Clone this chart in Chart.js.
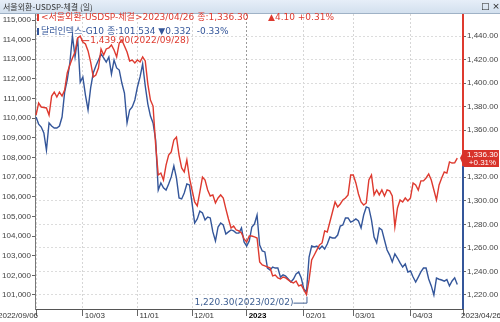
<!DOCTYPE html>
<html><head><meta charset="utf-8">
<script src="https://cdn.jsdelivr.net/npm/chart.js@4/dist/chart.umd.min.js"></script>
<style>html,body{margin:0;padding:0;background:#fff;overflow:hidden}canvas{display:block}</style>
</head><body>
<canvas id="c" width="500" height="322"></canvas>
<script>
// 서울외환 USD/KRW 체결 (daily close)
const usdkrw = [1372.9,1383.1,1379.7,1379.3,1378.9,1372.9,1389.0,1392.4,1388.2,1392.4,
1389.0,1394.1,1408.6,1415.4,1421.3,1426.4,1438.3,1439.9,1434.9,1433.2,
1427.3,1417.9,1405.2,1406.9,1412.8,1429.0,1423.9,1429.0,1429.8,1432.4,
1428.1,1422.2,1434.1,1436.6,1431.5,1426.4,1418.8,1419.6,1417.1,1419.6,
1417.9,1422.2,1418.8,1399.2,1385.6,1380.5,1347.4,1321.9,1323.6,1317.7,
1330.4,1338.9,1341.5,1351.7,1354.2,1338.9,1327.9,1324.5,1334.7,1319.4,
1309.2,1299.0,1295.6,1307.5,1320.2,1317.7,1309.2,1304.1,1305.0,1298.2,
1302.4,1305.0,1302.4,1293.1,1284.6,1276.9,1278.6,1275.2,1274.4,1272.7,
1267.6,1265.0,1270.1,1270.1,1269.3,1268.4,1248.1,1245.5,1244.7,1243.8,
1243.0,1236.2,1237.0,1234.5,1233.6,1235.3,1234.5,1232.8,1231.1,1230.2,
1231.9,1227.7,1228.5,1224.3,1220.3,1232.8,1249.8,1254.0,1258.3,1262.5,
1264.2,1274.4,1273.5,1282.0,1290.5,1299.0,1294.8,1297.3,1300.7,1302.4,
1305.0,1321.9,1321.9,1315.2,1305.8,1299.0,1296.5,1298.2,1317.7,1321.9,
1305.0,1309.2,1305.0,1309.2,1304.1,1309.2,1308.4,1304.1,1277.8,1293.9,
1300.7,1299.0,1302.4,1299.9,1302.4,1315.2,1313.5,1309.2,1316.9,1316.9,
1319.4,1322.8,1317.7,1309.2,1300.7,1313.5,1319.4,1324.5,1323.6,1333.0,
1332.1,1332.2,1336.3];

// 달러인덱스-G10
const dxyG10 = [110.06,109.70,109.55,109.25,108.38,109.76,109.60,109.50,109.50,109.60,
110.06,111.33,111.95,112.81,114.19,113.12,114.08,111.84,112.10,111.18,
110.42,111.54,112.30,112.66,112.96,113.27,113.07,112.86,113.12,112.25,
112.96,112.56,112.45,111.79,111.28,109.76,110.42,110.57,110.93,111.59,
112.10,112.76,111.64,110.72,110.11,109.76,108.89,106.34,106.70,106.45,
106.34,106.65,107.01,107.57,106.96,105.94,105.89,106.19,106.65,106.60,
105.68,104.66,104.87,105.27,105.17,104.82,104.97,104.92,104.21,103.75,
104.46,104.66,104.56,104.10,104.21,104.31,104.26,104.15,104.15,104.41,
103.70,103.49,103.75,104.46,104.61,105.07,103.54,103.24,103.19,102.37,
102.27,102.42,102.37,102.37,101.91,102.02,101.96,101.81,101.66,101.81,
102.07,102.17,101.86,101.30,101.15,102.93,103.49,103.44,103.49,103.34,
103.49,103.34,103.59,103.95,103.90,103.90,104.05,104.51,104.56,104.92,
104.92,104.71,104.77,104.87,104.77,104.41,105.07,105.48,105.43,104.82,
103.95,103.65,104.41,104.31,103.80,103.29,103.03,102.68,103.09,102.88,
102.63,102.42,102.58,102.17,102.22,101.91,101.66,101.91,102.17,102.37,
102.37,101.81,101.46,101.00,101.86,101.80,101.76,101.70,101.78,101.46,
101.71,101.87,101.534];

// x tick positions (trading-day index) and labels
const xTickIdx = [0,18,39,60,81,103,122,144];
const xTickLabels = ['2022/09/06','10/03','11/01','12/01','2023','02/01','03/01','04/03'];
const xEndLabel = '2023/04/26';
const leftTicks = [101,102,103,104,105,106,107,108,109,110,111,112,113,114,115];
const rightTicks = [1220,1240,1260,1280,1300,1320,1340,1360,1380,1400,1420,1440];

const peakDate = '2022/09/28';
const lowDate = '2023/02/02';
const titleText = '서울외환-USDSP-체결 (일)';
const legend1 = '<서울외환-USDSP-체결>2023/04/26 종:1,336.30';
const legend1b = '▲4.10 +0.31%';
const legend2 = '달러인덱스-G10 종:101.534 ▼0.332  -0.33%';
const tagLine2 = '+0.31%';

const RED = '#de3a2f', BLUE = '#34569a';
const AX_FONT = "8px 'Liberation Sans', Arial, sans-serif";
const TXT_FONT = "9px 'DejaVu Sans', 'Noto Sans CJK KR', sans-serif";

const fmt2 = v => v.toLocaleString('en-US',{minimumFractionDigits:2, maximumFractionDigits:2});

const deco = {
  id: 'deco',
  beforeDraw(chart) {
    const c = chart.ctx;
    c.save();
    c.fillStyle = '#fff';
    c.fillRect(0, 0, chart.width, chart.height);
    const g = c.createLinearGradient(0, 0, 0, 13);
    g.addColorStop(0, '#e6eef8');
    g.addColorStop(1, '#d3e0ee');
    c.fillStyle = g;
    c.fillRect(0, 0, chart.width, 13);
    c.fillStyle = '#9fb2c6';
    c.fillRect(0, 13, chart.width, 1);
    c.fillStyle = '#333';
    c.font = "8px 'Noto Sans CJK KR', sans-serif";
    c.textBaseline = 'middle';
    c.textAlign = 'left';
    c.fillText(titleText, 3, 7);
    c.font = "9px 'DejaVu Sans', sans-serif";
    c.fillStyle = '#222';
    c.fillText('□ ×', 481, 7);
    c.restore();
  },
  afterDraw(chart) {
    const c = chart.ctx;
    const area = chart.chartArea;
    const xs = chart.scales.x, yR = chart.scales.yR;
    c.save();
    // right axis coloured line
    const last = usdkrw[usdkrw.length - 1];
    const tagY = yR.getPixelForValue(last);
    c.fillStyle = RED;
    c.fillRect(area.right - 1, area.top, 2, tagY + 8 - area.top);
    c.fillStyle = BLUE;
    c.fillRect(area.right - 1, tagY + 8, 2, area.bottom - tagY - 8);
    // price tag
    c.fillStyle = '#d8332a';
    c.beginPath();
    c.moveTo(area.right - 3, tagY);
    c.lineTo(area.right + 1, tagY - 8);
    c.lineTo(chart.width - 1, tagY - 8);
    c.lineTo(chart.width - 1, tagY + 9);
    c.lineTo(area.right + 1, tagY + 9);
    c.closePath();
    c.fill();
    c.fillStyle = '#fff';
    c.font = AX_FONT;
    c.textAlign = 'center';
    c.textBaseline = 'middle';
    const tx = (area.right + chart.width) / 2 + 1;
    c.fillText(fmt2(last), tx, tagY - 3.5);
    c.fillText(tagLine2, tx, tagY + 4.5);

    // x labels
    c.textBaseline = 'middle';
    const ly = area.bottom + 7;
    xTickIdx.forEach((v, i) => {
      const px = xs.getPixelForValue(v);
      const lab = xTickLabels[i];
      c.font = lab === '2023' ? "bold 8px 'Liberation Sans', Arial, sans-serif" : AX_FONT;
      c.fillStyle = lab === '2023' ? '#000' : '#333';
      if (i === 0) { c.textAlign = 'right'; c.fillText(lab, px + 2, ly); }
      else { c.textAlign = 'left'; c.fillText(lab, px + 2, ly); }
    });
    c.font = AX_FONT;
    c.fillStyle = '#333';
    c.textAlign = 'left';
    c.fillText(xEndLabel, xs.getPixelForValue(xs.max) - 2, ly);

    // legend lines
    c.font = TXT_FONT;
    c.textAlign = 'left';
    c.fillStyle = RED;
    c.fillRect(37, 14, 2, 7);
    c.fillText(legend1, 41, 18);
    c.fillText(legend1b, 268, 18);
    c.fillStyle = BLUE;
    c.fillRect(37, 28, 2, 7);
    c.fillText(legend2, 41, 32);

    // peak annotation
    let pi = 0, li = 0;
    usdkrw.forEach((v, i) => { if (v > usdkrw[pi]) pi = i; if (v < usdkrw[li]) li = i; });
    const ppx = xs.getPixelForValue(pi), ppy = yR.getPixelForValue(usdkrw[pi]);
    c.strokeStyle = RED; c.lineWidth = 1;
    c.beginPath(); c.moveTo(ppx + 1, ppy + 4.5); c.lineTo(ppx + 9, ppy + 4.5); c.stroke();
    c.fillStyle = RED;
    c.fillText(fmt2(usdkrw[pi]) + '(' + peakDate + ')', ppx + 10, ppy + 4.5);
    // low annotation
    const lpx = xs.getPixelForValue(li), lpy = yR.getPixelForValue(usdkrw[li]);
    c.strokeStyle = '#3f5f92';
    c.beginPath();
    c.moveTo(lpx - 13, lpy + 8.5); c.lineTo(lpx + 0.5, lpy + 8.5); c.lineTo(lpx + 0.5, lpy + 2);
    c.stroke();
    c.fillStyle = '#3f5f92';
    c.textAlign = 'right';
    c.fillText(fmt2(usdkrw[li]) + '(' + lowDate + ')', lpx - 13, lpy + 8);
    c.restore();
  }
};

new Chart(document.getElementById('c'), {
  type: 'line',
  data: {
    datasets: [
      { label: 'USDKRW', data: usdkrw.map((v, i) => ({ x: i, y: v })), yAxisID: 'yR',
        borderColor: RED, borderWidth: 1.4, pointRadius: 0, tension: 0, fill: false },
      { label: 'DXY', data: dxyG10.map((v, i) => ({ x: i, y: v })), yAxisID: 'yL',
        borderColor: BLUE, borderWidth: 1.4, pointRadius: 0, tension: 0, fill: false }
    ]
  },
  options: {
    responsive: false, animation: false, devicePixelRatio: 1,
    layout: { padding: { top: 14, left: 0, right: 0, bottom: 0 } },
    plugins: { legend: { display: false }, tooltip: { enabled: false } },
    scales: {
      x: {
        type: 'linear', min: -0.4, max: 164.2,
        afterBuildTicks: s => { s.ticks = xTickIdx.map(v => ({ value: v })).concat([{ value: s.max }]); },
        ticks: { display: false },
        grid: { color: c => (c.tick && c.tick.value === 81) ? '#9a9a9a' : '#d6d6d6', tickLength: 7, tickColor: '#666', lineWidth: 1 },
        border: { display: true, color: '#555', width: 1, dash: [2, 2] },
        afterFit: s => { s.height = 13; }
      },
      yL: {
        position: 'left', min: 100.284, max: 115.306,
        afterBuildTicks: s => { s.ticks = leftTicks.map(v => ({ value: v })); },
        ticks: { font: { family: "'Liberation Sans', Arial, sans-serif", size: 8 }, color: '#444', padding: 1,
          callback: v => Math.round(v * 1000).toLocaleString('en-US') },
        grid: { drawOnChartArea: false, tickLength: 3, tickColor: '#666' },
        border: { display: true, color: '#777' },
        afterFit: s => { s.width = 35; }
      },
      yR: {
        position: 'right', min: 1208.1, max: 1458.7,
        afterBuildTicks: s => { s.ticks = rightTicks.map(v => ({ value: v })); },
        ticks: { font: { family: "'Liberation Sans', Arial, sans-serif", size: 8 }, color: '#444', padding: 1,
          callback: v => fmt2(v) },
        grid: { color: '#dcdcdc', tickLength: 3, tickColor: '#666' },
        border: { display: false, dash: [2, 2] },
        afterFit: s => { s.width = 37; }
      }
    }
  },
  plugins: [deco]
});
</script>
</body></html>
